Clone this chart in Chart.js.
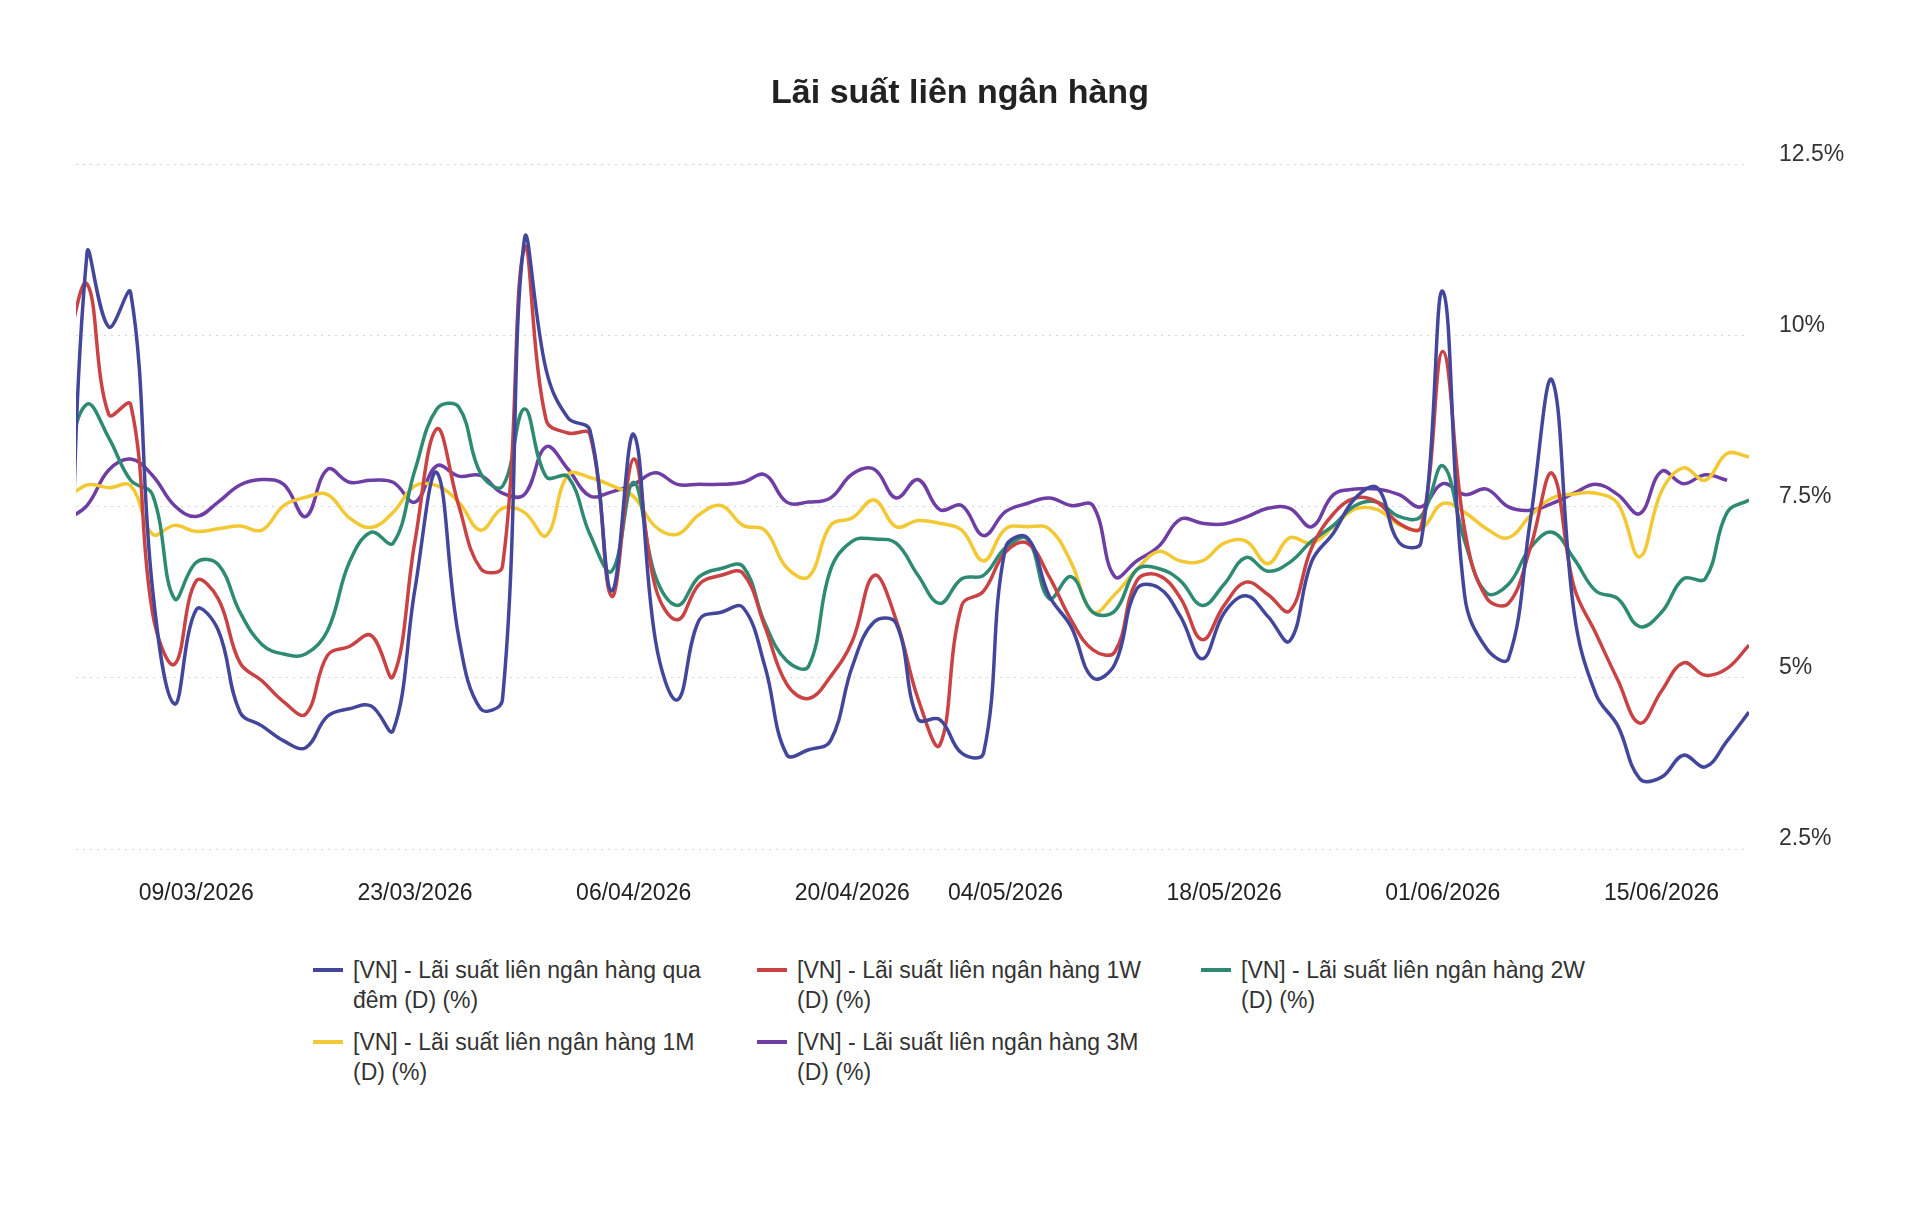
<!DOCTYPE html>
<html>
<head>
<meta charset="utf-8">
<script src="https://cdn.jsdelivr.net/npm/chart.js@4.4.1/dist/chart.umd.min.js"></script>
<style>
  body { margin: 0; background: #fff; font-family: "Liberation Sans", Arial, sans-serif; }
  #wrap { position: relative; width: 1920px; height: 1212px; }
  #chart { position: absolute; left: 0; top: 0; }
  #legend {
    position: absolute; left: 313px; top: 955px;
    display: grid; grid-template-columns: repeat(3, 444px); row-gap: 12px;
  }
  .item { display: flex; align-items: flex-start; }
  .swatch { width: 30px; height: 4px; margin-top: 13px; margin-right: 10px; flex: none; }
  .text { width: 360px; font-size: 23px; line-height: 30px; color: #333; }
</style>
</head>
<body>
<div id="wrap">
  <canvas id="chart" width="1920" height="910"></canvas>
  <div id="legend"></div>
</div>
<script>
const titleText = "Lãi suất liên ngân hàng";

const seriesNames = [
  "[VN] - Lãi suất liên ngân hàng qua đêm (D) (%)",
  "[VN] - Lãi suất liên ngân hàng 1W (D) (%)",
  "[VN] - Lãi suất liên ngân hàng 2W (D) (%)",
  "[VN] - Lãi suất liên ngân hàng 1M (D) (%)",
  "[VN] - Lãi suất liên ngân hàng 3M (D) (%)"
];
const seriesColors = ["#43479b", "#c94345", "#2e8b72", "#f2c935", "#6e3ea5"];

// trading days only (weekends + holidays are skipped)
const firstDay = "27/02/2026";
const lastDay = "19/06/2026";
const holidays = ["27/04/2026", "30/04/2026", "01/05/2026"];
const tickDates = ["09/03/2026", "23/03/2026", "06/04/2026", "20/04/2026",
                   "04/05/2026", "18/05/2026", "01/06/2026", "15/06/2026"];
const yTicks = [2.5, 5, 7.5, 10, 12.5];

const overnight = [3.0, 11.2, 10.13, 10.63, 6.3, 4.62, 6.0, 5.7, 4.5, 4.3,
  4.08, 3.98, 4.44, 4.55, 4.59, 4.23, 6.3, 8.0, 5.6, 4.55,
  4.68, 11.4, 9.5, 8.8, 8.62, 6.27, 8.56, 5.54, 4.68, 5.85,
  5.96, 6.03, 5.17, 3.88, 3.95, 4.08, 5.17, 5.82, 5.8, 4.4,
  4.39, 3.9, 3.9, 6.9, 7.05, 6.2, 5.75, 5.0, 5.2, 6.3,
  6.32, 5.9, 5.28, 5.95, 6.2, 5.9, 5.54, 6.7, 7.12, 7.63,
  7.78, 6.98, 6.98, 10.65, 6.2, 5.43, 5.28, 7.3, 9.35, 5.96,
  4.76, 4.3, 3.53, 3.55, 3.87, 3.7, 4.08, 4.5];

const week1 = [9.7, 10.76, 8.85, 9.0, 5.95, 5.2, 6.42, 6.16, 5.22, 4.96,
  4.65, 4.47, 5.33, 5.46, 5.62, 5.02, 7.0, 8.64, 7.52, 6.6,
  6.63, 11.28, 8.77, 8.58, 8.56, 6.19, 8.2, 6.32, 5.85, 6.37,
  6.5, 6.53, 5.75, 4.91, 4.7, 5.02, 5.54, 6.5, 5.85, 4.7,
  4.02, 6.06, 6.27, 6.84, 6.97, 6.48, 5.85, 5.41, 5.38, 6.42,
  6.5, 6.17, 5.56, 6.06, 6.4, 6.22, 5.98, 6.9, 7.4, 7.63,
  7.57, 7.26, 7.2, 9.77, 7.16, 6.17, 6.09, 6.9, 7.99, 6.33,
  5.65, 4.97, 4.34, 4.81, 5.22, 5.04, 5.14, 5.48];

const week2 = [8.1, 9.0, 8.51, 7.89, 7.68, 6.16, 6.69, 6.66, 5.96, 5.49,
  5.35, 5.35, 5.69, 6.69, 7.13, 6.97, 8.04, 8.93, 8.96, 7.99,
  7.8, 8.93, 7.94, 7.94, 7.1, 6.56, 7.86, 6.48, 6.06, 6.48,
  6.6, 6.63, 5.8, 5.25, 5.17, 6.58, 7.0, 7.03, 6.97, 6.5,
  6.09, 6.45, 6.5, 6.9, 7.03, 6.16, 6.48, 5.96, 5.98, 6.58,
  6.6, 6.42, 6.06, 6.37, 6.76, 6.56, 6.69, 7.0, 7.23, 7.52,
  7.57, 7.36, 7.36, 8.1, 7.0, 6.24, 6.37, 6.9, 7.13, 6.74,
  6.27, 6.16, 5.75, 5.96, 6.45, 6.45, 7.42, 7.6];

const month1 = [7.6, 7.82, 7.78, 7.81, 7.1, 7.23, 7.14, 7.18, 7.22, 7.16,
  7.52, 7.64, 7.68, 7.34, 7.2, 7.42, 7.81, 7.81, 7.57, 7.16,
  7.48, 7.42, 7.08, 7.97, 7.93, 7.81, 7.65, 7.21, 7.1, 7.39,
  7.52, 7.23, 7.16, 6.61, 6.48, 7.23, 7.34, 7.6, 7.21, 7.3,
  7.26, 7.16, 6.71, 7.18, 7.21, 7.18, 6.69, 5.96, 6.22, 6.58,
  6.85, 6.71, 6.71, 6.97, 7.0, 6.67, 7.05, 6.97, 7.21, 7.47,
  7.46, 7.24, 7.18, 7.55, 7.42, 7.18, 7.05, 7.37, 7.63, 7.69,
  7.7, 7.55, 6.77, 7.73, 8.07, 7.89, 8.28, 8.23];

const month3 = [7.3, 7.52, 8.04, 8.2, 7.96, 7.52, 7.36, 7.57, 7.82, 7.9,
  7.83, 7.36, 8.05, 7.86, 7.89, 7.86, 7.57, 8.1, 7.95, 7.96,
  7.7, 7.68, 8.38, 8.05, 7.66, 7.72, 7.83, 8.0, 7.83, 7.83,
  7.83, 7.86, 7.97, 7.57, 7.57, 7.63, 7.98, 8.05, 7.63, 7.9,
  7.46, 7.52, 7.08, 7.43, 7.55, 7.63, 7.52, 7.52, 6.48, 6.71,
  6.92, 7.32, 7.26, 7.25, 7.35, 7.48, 7.48, 7.21, 7.68, 7.76,
  7.76, 7.68, 7.5, 7.84, 7.68, 7.76, 7.5, 7.45, 7.55, 7.7,
  7.83, 7.68, 7.4, 8.02, 7.84, 7.97, 7.89, null];

const seriesValues = [overnight, week1, week2, month1, month3];

/* ---------- trading day labels ---------- */
function fmt(d) {
  const dd = String(d.getDate()).padStart(2, "0");
  const mm = String(d.getMonth() + 1).padStart(2, "0");
  return dd + "/" + mm + "/" + d.getFullYear();
}
function parse(s) {
  const p = s.split("/");
  return new Date(+p[2], +p[1] - 1, +p[0]);
}
const dates = [];
for (let d = parse(firstDay); d <= parse(lastDay); d.setDate(d.getDate() + 1)) {
  const wd = d.getDay();
  if (wd === 0 || wd === 6) continue;
  if (holidays.includes(fmt(d))) continue;
  dates.push(fmt(d));
}

const fontFamily = '"Liberation Sans", Arial, Helvetica, sans-serif';

const datasets = seriesValues.map((vals, k) => ({
  label: seriesNames[k],
  data: vals.map((v, i) => ({ x: i, y: v })),
  borderColor: seriesColors[k],
  backgroundColor: seriesColors[k],
  borderWidth: 3.5,
  pointRadius: 0,
  tension: 0.4,
  fill: false,
  spanGaps: false
}));

const chart = new Chart(document.getElementById("chart"), {
  type: "line",
  data: { datasets: datasets },
  options: {
    responsive: false,
    animation: false,
    events: [],
    layout: { padding: { left: 76, right: 76, top: 0, bottom: 0 } },
    plugins: {
      legend: { display: false },
      tooltip: { enabled: false },
      title: {
        display: true,
        text: titleText,
        color: "#222",
        font: { family: fontFamily, size: 34, weight: "bold" },
        padding: { top: 73, bottom: 51 }
      }
    },
    scales: {
      x: {
        type: "linear",
        min: 0.5,
        max: dates.length - 1,
        grid: { display: false },
        border: { display: false },
        afterBuildTicks: (axis) => {
          axis.ticks = tickDates.map(d => ({ value: dates.indexOf(d) }));
        },
        afterFit: (scale) => { scale.height = 61; },
        ticks: {
          autoSkip: false,
          maxRotation: 0,
          padding: 23,
          color: "#222",
          font: { family: fontFamily, size: 23 },
          callback: (value) => dates[value]
        }
      },
      y: {
        position: "right",
        min: 2.5,
        max: 12.5,
        afterBuildTicks: (axis) => {
          axis.ticks = yTicks.map(v => ({ value: v }));
        },
        afterFit: (scale) => { scale.width = 95; },
        grid: { color: "#d6d6d6", lineWidth: 1, drawTicks: false },
        border: { display: false, dash: [2, 5] },
        ticks: {
          padding: 30,
          labelOffset: -10,
          color: "#333",
          font: { family: fontFamily, size: 23 },
          callback: (value) => value + "%"
        }
      }
    }
  }
});

/* ---------- legend ---------- */
const legendBox = document.getElementById("legend");
chart.data.datasets.forEach((ds) => {
  const item = document.createElement("div");
  item.className = "item";
  const sw = document.createElement("span");
  sw.className = "swatch";
  sw.style.background = ds.borderColor;
  const tx = document.createElement("span");
  tx.className = "text";
  tx.textContent = ds.label;
  item.appendChild(sw);
  item.appendChild(tx);
  legendBox.appendChild(item);
});
</script>
</body>
</html>
